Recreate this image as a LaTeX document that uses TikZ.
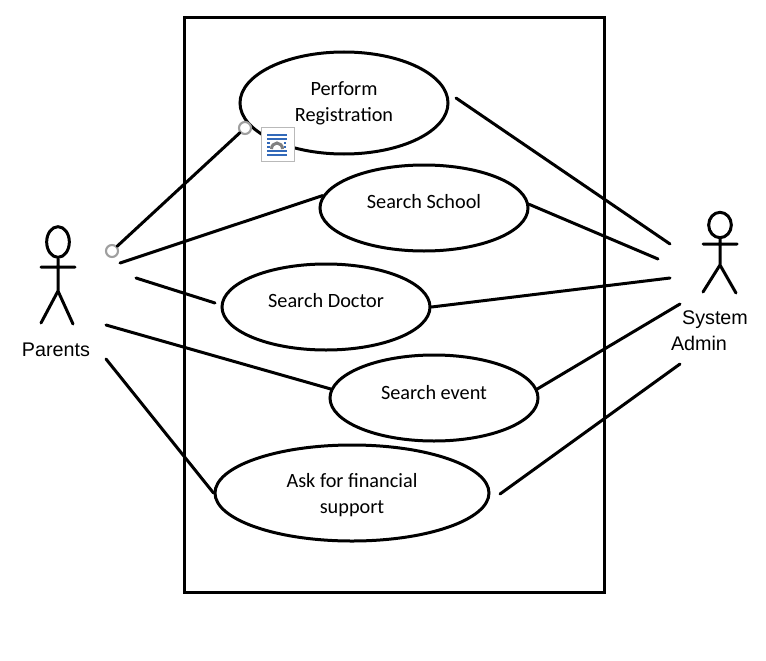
\documentclass[tikz,border=0pt]{standalone}
\usepackage{fontspec}
\setmainfont{Carlito}
\newfontfamily\actorfont{Liberation Sans}
\usetikzlibrary{shapes.geometric}
\definecolor{iconblue}{RGB}{50,105,185}

\begin{document}
\begin{tikzpicture}[
  x=0.75pt, y=-0.75pt,
  line width=2.25pt, line cap=round,
  every node/.style={font=\fontsize{15.2}{19.5}\selectfont},
  usecase/.style={ellipse, draw, inner sep=0pt, align=center, minimum width=156pt, minimum height=64.5pt},
  actorlabel/.style={inner sep=0pt, anchor=base, font=\actorfont\fontsize{14.8}{18}\selectfont},
  handle/.style={circle, draw=gray!75, fill=white, line width=1.6pt, inner sep=0pt, minimum size=9pt},
  iconline/.style={draw=iconblue, line width=1pt, line cap=butt}]

\useasboundingbox (0,0) rectangle (766,660);

% system boundary
\draw (184.5,17.5) rectangle (604.5,592);

% use cases
\node[usecase, minimum height=76.5pt, text depth=2pt] (register) at (344,103) {Perform\\Registration};
\node[usecase, text depth=10pt] (school) at (424,208) {Search School};
\node[usecase, text depth=10pt] (doctor) at (326,307) {Search Doctor};
\node[usecase, text depth=9pt] (event) at (434,398) {Search event};
\node[usecase, minimum width=205.5pt, minimum height=72pt, text depth=0pt] (support) at (352,493) {Ask for financial\\support};

% parents
\node[ellipse, draw, inner sep=0pt, minimum width=17pt, minimum height=23pt] (phead) at (58,242) {};
\coordinate (phip) at (58,291);
\coordinate (parmL) at (41,267);
\coordinate (parmR) at (75,267);
\coordinate (plegL) at (41,323);
\coordinate (plegR) at (73,324);
\draw (phead) -- (phip) (parmL) -- (parmR) (plegL) -- (phip) -- (plegR);
\node[actorlabel] (parents) at (56,356) {Parents};

% system admin
\node[ellipse, draw, inner sep=0pt, minimum width=17pt, minimum height=19pt] (ahead) at (720,225) {};
\coordinate (ahip) at (720,265);
\coordinate (aarmL) at (703,244);
\coordinate (aarmR) at (737,244);
\coordinate (alegL) at (703,292);
\coordinate (alegR) at (736,293);
\draw (ahead) -- (ahip) (aarmL) -- (aarmR) (alegL) -- (ahip) -- (alegR);
\node[actorlabel] (system) at (715,324) {System};
\node[actorlabel] (admin) at (699,350) {Admin};

% free ends of the associations
\coordinate (p2) at (120,263);
\coordinate (p3) at (136,278);
\coordinate (p4) at (106,325);
\coordinate (p5) at (106,359);
\coordinate (d3) at (215,303);
\coordinate (a1) at (670,244);
\coordinate (a2) at (658,259);
\coordinate (a3) at (670,278);
\coordinate (a4) at (680,304);
\coordinate (a5) at (680,364);
\coordinate (r1) at (456,98);
\coordinate (s5) at (500,494);

% parents side
\node[handle] (h1) at (112,251) {};
\node[handle] (h2) at (245,128) {};
\draw (h1) -- (h2);
\draw (p2) -- (school.173);
\draw (p3) -- (d3);
\draw (p4) -- (event.175);
\draw (p5) -- (support.west);

% admin side
\draw (r1) -- (a1);
\draw (school.2) -- (a2);
\draw (doctor.east) -- (a3);
\draw (event.5) -- (a4);
\draw (s5) -- (a5);

% layout icon
\node[draw=gray!55, fill=white, line width=0.75pt, minimum size=25pt, inner sep=0pt] (icon) at (278,144.5) {};
\foreach \y in {135,139,151,155}
  \draw[iconline] (267,\y) -- (287,\y);
\foreach \y in {143,147}
  \draw[iconline, dash pattern=on 2.5pt off 1.5pt] (267,\y) -- (287,\y);
\fill[white] (270.5,149.5) rectangle (283.5,141);
\draw[gray, line width=2.25pt, line cap=butt] (271.5,149) arc (-180:0:5.5 and 6);
\end{tikzpicture}
\end{document}
